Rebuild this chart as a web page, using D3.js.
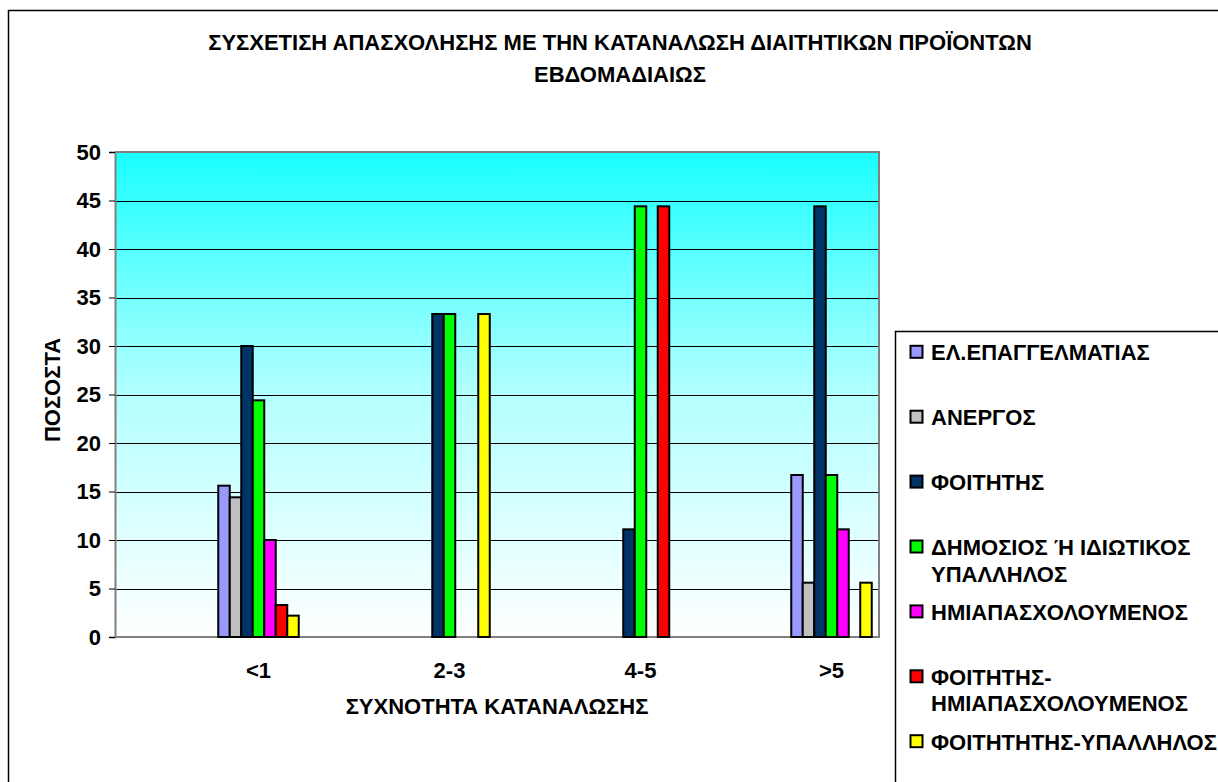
<!DOCTYPE html>
<html>
<head>
<meta charset="utf-8">
<script src="https://cdn.jsdelivr.net/npm/d3@7"></script>
<style>
  html, body { margin: 0; padding: 0; background: #fff; overflow: hidden; }
</style>
</head>
<body>
<svg id="chart" width="1218" height="782"></svg>
<script>
// Frequency of consumption (x categories)
const categories = ["<1", "2-3", "4-5", ">5"];

// Occupation groups (legend order); "\n" marks a legend line break
const seriesNames = [
  "ΕΛ.ΕΠΑΓΓΕΛΜΑΤΙΑΣ",
  "ΑΝΕΡΓΟΣ",
  "ΦΟΙΤΗΤΗΣ",
  "ΔΗΜΟΣΙΟΣ Ή ΙΔΙΩΤΙΚΟΣ\nΥΠΑΛΛΗΛΟΣ",
  "ΗΜΙΑΠΑΣΧΟΛΟΥΜΕΝΟΣ",
  "ΦΟΙΤΗΤΗΣ-\nΗΜΙΑΠΑΣΧΟΛΟΥΜΕΝΟΣ",
  "ΦΟΙΤΗΤΗΤΗΣ-ΥΠΑΛΛΗΛΟΣ"
];
const seriesColors = ["#9999FF", "#C0C0C0", "#003366", "#00FF00", "#FF00FF", "#FF0000", "#FFFF00"];

// Percentages per frequency category
const elEpaggelmatias   = [15.6, 0, 0, 16.7];
const anergos           = [14.4, 0, 0, 5.6];
const foititis          = [30.0, 33.3, 11.1, 44.4];
const dimosiosYpallilos = [24.4, 33.3, 44.4, 16.7];
const imiapasxoloumenos = [10.0, 0, 0, 11.1];
const foititisImiapasx  = [3.3, 0, 44.4, 0];
const foititisYpallilos = [2.2, 33.3, 0, 5.6];
const seriesValues = [elEpaggelmatias, anergos, foititis, dimosiosYpallilos,
                      imiapasxoloumenos, foititisImiapasx, foititisYpallilos];

const yTicks = [0, 5, 10, 15, 20, 25, 30, 35, 40, 45, 50];

const titleLines = ["ΣΥΣΧΕΤΙΣΗ ΑΠΑΣΧΟΛΗΣΗΣ ΜΕ ΤΗΝ ΚΑΤΑΝΑΛΩΣΗ ΔΙΑΙΤΗΤΙΚΩΝ ΠΡΟΪΟΝΤΩΝ", "ΕΒΔΟΜΑΔΙΑΙΩΣ"];
const xTitle = "ΣΥΧΝΟΤΗΤΑ ΚΑΤΑΝΑΛΩΣΗΣ";
const yTitle = "ΠΟΣΟΣΤΑ";

// ---- layout ----
const plot = { left: 115, right: 879, top: 152, bottom: 637 };
const catShift = 48;      // category groups sit right of the plot's band centres
const groupWidth = 80.5;  // width of a 7-bar cluster
const FONT = "'Liberation Sans', Arial, sans-serif";
const FS = 22;

const svg = d3.select("#chart");

function label(sel) {
  return sel.attr("font-family", FONT).attr("font-weight", 700)
    .attr("font-size", FS).attr("fill", "#000");
}

// Outer chart frame (continues beyond the visible window)
svg.append("rect")
  .attr("x", 8.5).attr("y", 10.5).attr("width", 1240).attr("height", 800)
  .attr("fill", "#fff").attr("stroke", "#000").attr("stroke-width", 1.5);

// Scales
const y = d3.scaleLinear().domain([0, 50]).range([plot.bottom, plot.top]);
const xCat = d3.scaleBand().domain(categories)
  .range([plot.left + catShift, plot.right + catShift]);
const xSer = d3.scaleBand().domain(d3.range(seriesNames.length))
  .range([-groupWidth / 2, groupWidth / 2]);

// Plot background gradient
const defs = svg.append("defs");
const grad = defs.append("linearGradient").attr("id", "bg")
  .attr("x1", 0).attr("y1", 0).attr("x2", 0).attr("y2", 1);
grad.append("stop").attr("offset", 0).attr("stop-color", "#19FFFF");
grad.append("stop").attr("offset", 0.5).attr("stop-color", "#B4FFFF");
grad.append("stop").attr("offset", 1).attr("stop-color", "#FFFFFF");

svg.append("rect")
  .attr("x", plot.left).attr("y", plot.top)
  .attr("width", plot.right - plot.left).attr("height", plot.bottom - plot.top)
  .attr("fill", "url(#bg)");

// Gridlines
svg.append("g")
  .selectAll("line")
  .data(yTicks.filter(t => t > 0 && t < 50))
  .join("line")
  .attr("x1", plot.left).attr("x2", plot.right)
  .attr("y1", d => Math.round(y(d)) + 0.5).attr("y2", d => Math.round(y(d)) + 0.5)
  .attr("stroke", "#000").attr("stroke-width", 1);

// Plot border (top/right/bottom) in grey
svg.append("path")
  .attr("d", `M${plot.left},${plot.top}H${plot.right}V${plot.bottom}H${plot.left}`)
  .attr("fill", "none").attr("stroke", "#808080").attr("stroke-width", 2);

// Bars
const barData = [];
seriesValues.forEach((vals, s) => {
  vals.forEach((v, c) => {
    if (v > 0) barData.push({ s, cat: categories[c], v });
  });
});
svg.append("g")
  .selectAll("rect")
  .data(barData)
  .join("rect")
  .attr("x", d => xCat(d.cat) + xCat.bandwidth() / 2 + xSer(d.s))
  .attr("width", xSer.bandwidth())
  .attr("y", d => y(d.v))
  .attr("height", d => y(0) - y(d.v))
  .attr("fill", d => seriesColors[d.s])
  .attr("stroke", "#000").attr("stroke-width", 2);

// Y axis
const yAxis = svg.append("g")
  .attr("transform", `translate(${plot.left},0)`)
  .call(d3.axisLeft(y).tickValues(yTicks).tickSize(6).tickPadding(8));
yAxis.attr("font-family", FONT).attr("font-size", FS);
yAxis.select(".domain").attr("stroke", "#808080").attr("stroke-width", 2);
yAxis.selectAll(".tick line").attr("stroke", "#000");
yAxis.selectAll(".tick text").call(label);

// X category labels
svg.append("g")
  .selectAll("text")
  .data(categories)
  .join("text")
  .call(label)
  .attr("x", d => xCat(d) + xCat.bandwidth() / 2)
  .attr("y", 678)
  .attr("text-anchor", "middle")
  .text(d => d);

// Axis titles
svg.append("text")
  .call(label)
  .attr("x", (plot.left + plot.right) / 2).attr("y", 714)
  .attr("text-anchor", "middle")
  .text(xTitle);

svg.append("text")
  .call(label)
  .attr("transform", `translate(60,390) rotate(-90)`)
  .attr("text-anchor", "middle")
  .text(yTitle);

// Chart title
svg.append("g")
  .selectAll("text")
  .data(titleLines)
  .join("text")
  .call(label)
  .attr("x", 620)
  .attr("y", (d, i) => 50 + i * 32)
  .attr("text-anchor", "middle")
  .text(d => d);

// Legend
const legend = { left: 895.5, top: 331.5, rowStep: 64.9, firstRow: 352.3, lineStep: 26.6 };
svg.append("rect")
  .attr("x", legend.left).attr("y", legend.top)
  .attr("width", 400).attr("height", 500)
  .attr("fill", "#fff").attr("stroke", "#000").attr("stroke-width", 1.5);

const items = svg.append("g").selectAll("g")
  .data(seriesNames)
  .join("g")
  .attr("transform", (d, i) => `translate(0,${legend.firstRow + i * legend.rowStep})`);

items.append("rect")
  .attr("x", 910.5).attr("y", -6.5)
  .attr("width", 12).attr("height", 12)
  .attr("fill", (d, i) => seriesColors[i])
  .attr("stroke", "#000").attr("stroke-width", 2);

items.append("text")
  .call(label)
  .selectAll("tspan")
  .data(d => d.split("\n"))
  .join("tspan")
  .attr("x", 931)
  .attr("y", (d, j) => 8 + j * legend.lineStep)
  .text(d => d);
</script>
</body>
</html>
